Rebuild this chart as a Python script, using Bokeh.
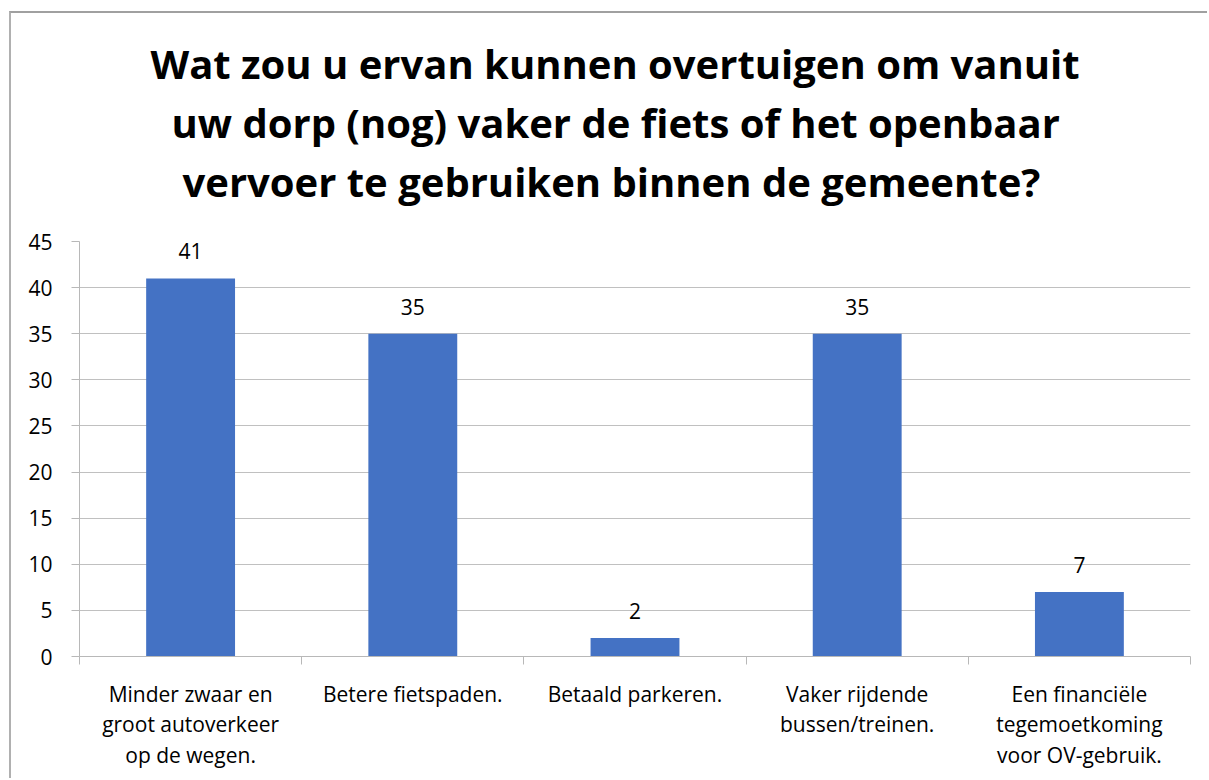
from bokeh.plotting import figure
from bokeh.models import Range1d, FixedTicker, Title, ColumnDataSource
from bokeh.core.properties import value
from bokeh.embed import file_html
from bokeh.resources import INLINE

title_lines = [
    "Wat zou u ervan kunnen overtuigen om vanuit",
    "uw dorp (nog) vaker de fiets of het openbaar",
    "vervoer te gebruiken binnen de gemeente?",
]
categories = [
    "Minder zwaar en\ngroot autoverkeer\nop de wegen.",
    "Betere fietspaden.",
    "Betaald parkeren.",
    "Vaker rijdende\nbussen/treinen.",
    "Een financiële\ntegemoetkoming\nvoor OV-gebruik.",
]
counts = [41, 35, 2, 35, 7]
y_ticks = [0, 5, 10, 15, 20, 25, 30, 35, 40, 45]

FONT = "Open Sans"
xs = [i + 0.5 for i in range(len(categories))]
src = ColumnDataSource(dict(x=xs, top=counts, lab=[str(c) for c in counts]))

p = figure(width=1198, height=767, output_backend="svg", toolbar_location=None,
           x_range=Range1d(0, len(categories)), y_range=Range1d(0, 45),
           min_border_left=68, min_border_right=19, min_border_bottom=124, min_border_top=228)

p.vbar(x="x", top="top", width=0.4, source=src, color="#4472C4", line_color=None)
p.text(x="x", y="top", text="lab", source=src, text_align="center", text_baseline="alphabetic",
       y_offset=-27, text_font=value(FONT), text_font_size="21px", text_color="#000000")

# spacer between the title block and the plot area
p.add_layout(Title(text=" ", text_font=FONT, text_font_size="22px", standoff=0), "above")
title_offsets = [71, 92, 103]
for line, off in reversed(list(zip(title_lines, title_offsets))):
    p.add_layout(Title(text=line, align="left", offset=off, text_font=FONT,
                       text_font_size="40px", text_font_style="bold",
                       text_color="#000000", standoff=2), "above")

p.outline_line_color = None
p.xgrid.visible = False
p.ygrid.ticker = FixedTicker(ticks=y_ticks)
p.ygrid.grid_line_color = "#C0C0C0"
p.ygrid.grid_line_width = 1

ya = p.yaxis[0]
ya.ticker = FixedTicker(ticks=y_ticks)
ya.axis_line_color = "#B8B8B8"
ya.major_tick_line_color = "#B8B8B8"
ya.major_tick_out = 8
ya.major_tick_in = 0
ya.minor_tick_line_color = None
ya.major_label_text_font = FONT
ya.major_label_text_font_size = "21px"
ya.major_label_text_color = "#000000"
ya.major_label_standoff = 19

xa = p.xaxis[0]
xa.ticker = FixedTicker(ticks=xs, minor_ticks=list(range(len(categories) + 1)))
xa.major_label_overrides = {x: c for x, c in zip(xs, categories)}
xa.axis_line_color = "#B8B8B8"
xa.major_tick_line_color = None
xa.major_tick_out = 0
xa.major_tick_in = 0
xa.minor_tick_line_color = "#B8B8B8"
xa.minor_tick_out = 8
xa.minor_tick_in = 0
xa.major_label_text_font = FONT
xa.major_label_text_font_size = "21px"
xa.major_label_text_color = "#000000"
xa.major_label_text_line_height = 1.09
xa.major_label_standoff = 15

p.styles = {"margin-left": "9px", "margin-top": "11px",
            "border-top": "2px solid #A0A0A0", "border-left": "2px solid #B0B0B0"}

open("out.html", "w").write(file_html(p, INLINE))
